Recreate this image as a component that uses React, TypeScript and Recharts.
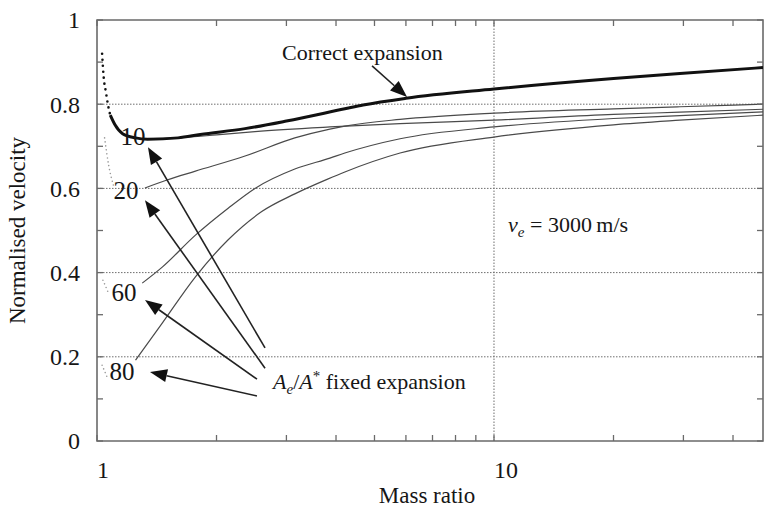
import React from 'react';
import { LineChart, Line, XAxis, YAxis, ReferenceLine, ReferenceDot, ReferenceArea } from 'recharts';

const SERIF = "'Liberation Serif', 'DejaVu Serif', 'Times New Roman', serif";
const FRAME = '#6a6a6a';
const INK = '#161616';
const PLOT_H = 421;
const PLOT_W = 666;
const TICK_LEN = 6;

const X_DOMAIN: [number, number] = [1, 47.6];
const Y_DOMAIN: [number, number] = [0, 1];
const xAllTicks = [1, 2, 3, 4, 5, 6, 7, 8, 9, 10, 20, 30, 40];
const xLabelTicks = [1, 10];
const yAllTicks = [0, 0.1, 0.2, 0.3, 0.4, 0.5, 0.6, 0.7, 0.8, 0.9, 1];
const yLabelTicks = [0, 0.2, 0.4, 0.6, 0.8, 1];
const gridY = [0.2, 0.4, 0.6, 0.8];
const gridX = [10];

// Correct expansion (thick)
const correctDotted = [
  { x: 1.03, y: 0.92 }, { x: 1.04, y: 0.862 }, { x: 1.053, y: 0.829 }, { x: 1.065, y: 0.8 }, { x: 1.08, y: 0.774 },
];
const correctSolid = [
  { x: 1.08, y: 0.774 }, { x: 1.11, y: 0.751 }, { x: 1.16, y: 0.73 }, { x: 1.25, y: 0.72 }, { x: 1.34, y: 0.717 },
  { x: 1.6, y: 0.72 }, { x: 1.82, y: 0.728 }, { x: 2.36, y: 0.742 }, { x: 3, y: 0.76 }, { x: 4.21, y: 0.789 },
  { x: 4.68, y: 0.798 }, { x: 6, y: 0.814 }, { x: 10, y: 0.836 }, { x: 20, y: 0.861 }, { x: 29.4, y: 0.873 }, { x: 47.6, y: 0.887 },
];
// Ae/A* = 10
const ratio10 = [
  { x: 1.3, y: 0.718 }, { x: 1.6, y: 0.72 }, { x: 2, y: 0.727 }, { x: 2.5, y: 0.735 }, { x: 3.86, y: 0.746 },
  { x: 5.8, y: 0.754 }, { x: 10, y: 0.762 }, { x: 20, y: 0.776 }, { x: 29.4, y: 0.781 }, { x: 47.6, y: 0.788 },
];
// Ae/A* = 20
const ratio20Dotted = [{ x: 1.045, y: 0.72 }, { x: 1.07, y: 0.655 }, { x: 1.1, y: 0.607 }];
const ratio20 = [
  { x: 1.32, y: 0.601 }, { x: 1.5, y: 0.62 }, { x: 1.77, y: 0.641 }, { x: 2.36, y: 0.677 }, { x: 3.15, y: 0.72 },
  { x: 3.86, y: 0.741 }, { x: 4.21, y: 0.748 }, { x: 5.8, y: 0.764 }, { x: 10, y: 0.779 }, { x: 20, y: 0.789 },
  { x: 29.4, y: 0.794 }, { x: 47.6, y: 0.8 },
];
// Ae/A* = 60
const ratio60Dotted = [{ x: 1.035, y: 0.382 }, { x: 1.066, y: 0.354 }];
const ratio60 = [
  { x: 1.3, y: 0.375 }, { x: 1.46, y: 0.413 }, { x: 1.77, y: 0.489 }, { x: 2.14, y: 0.553 }, { x: 2.5, y: 0.6 },
  { x: 3.15, y: 0.646 }, { x: 3.86, y: 0.672 }, { x: 4.21, y: 0.684 }, { x: 5.8, y: 0.718 }, { x: 10, y: 0.746 },
  { x: 20, y: 0.766 }, { x: 29.4, y: 0.773 }, { x: 47.6, y: 0.782 },
];
// Ae/A* = 80
const ratio80Dotted = [{ x: 1.03, y: 0.18 }, { x: 1.06, y: 0.152 }];
const ratio80 = [
  { x: 1.25, y: 0.192 }, { x: 1.46, y: 0.28 }, { x: 1.77, y: 0.39 }, { x: 2.14, y: 0.478 }, { x: 2.6, y: 0.545 },
  { x: 3.15, y: 0.587 }, { x: 3.81, y: 0.622 }, { x: 4.21, y: 0.639 }, { x: 5.8, y: 0.684 }, { x: 10, y: 0.722 },
  { x: 20, y: 0.751 }, { x: 29.4, y: 0.762 }, { x: 47.6, y: 0.774 },
];

const curveLabels = [
  { text: '10', x: 1.232, y: 0.724 },
  { text: '20', x: 1.183, y: 0.596 },
  { text: '60', x: 1.169, y: 0.354 },
  { text: '80', x: 1.156, y: 0.166 },
];

const arrows = [
  { from: { x: 4.93, y: 0.891 }, to: { x: 6.04, y: 0.817 } },
  { from: { x: 2.65, y: 0.221 }, to: { x: 1.344, y: 0.698 } },
  { from: { x: 2.65, y: 0.173 }, to: { x: 1.321, y: 0.572 } },
  { from: { x: 2.529, y: 0.147 }, to: { x: 1.321, y: 0.335 } },
  { from: { x: 2.529, y: 0.107 }, to: { x: 1.36, y: 0.164 } },
];

const correctLabelPos = { x: 2.924, y: 0.905 };
const fixedLabelPos = { x: 2.776, y: 0.1235 };
const veLabelPos = { x: 10.85, y: 0.4964 };

const txt = (size: number) => ({ fontFamily: SERIF, fontSize: size });

const ArrowShape = (p: any) => {
  const { x1, y1, x2, y2 } = p;
  if ([x1, y1, x2, y2].some((v) => typeof v !== 'number' || isNaN(v))) return <g />;
  const ang = Math.atan2(y2 - y1, x2 - x1);
  const L = 17;
  const W = 6.5;
  const bx = x2 - L * Math.cos(ang);
  const by = y2 - L * Math.sin(ang);
  const px = -Math.sin(ang) * W;
  const py = Math.cos(ang) * W;
  return (
    <g>
      <line x1={x1} y1={y1} x2={bx} y2={by} stroke="#222" strokeWidth={1.6} />
      <polygon points={`${x2},${y2} ${bx + px},${by + py} ${bx - px},${by - py}`} fill="#111" />
    </g>
  );
};

// bottom axis: p.y is the plot bottom (tickSize 0, tickMargin 0)
const XTick = (p: any) => {
  const v = p.payload.value;
  const bottom = p.y;
  const top = p.y - PLOT_H;
  return (
    <g>
      <line x1={p.x} y1={bottom} x2={p.x} y2={bottom - TICK_LEN} stroke={FRAME} strokeWidth={1.3} />
      <line x1={p.x} y1={top} x2={p.x} y2={top + TICK_LEN} stroke={FRAME} strokeWidth={1.3} />
      {xLabelTicks.includes(v) && (
        <text x={p.x} y={bottom + 37} textAnchor="start" fill={INK} style={txt(24)}>
          {v}
        </text>
      )}
    </g>
  );
};

// left axis: p.x is plot left - 17 (tickSize 0, tickMargin 17)
const YTick = (p: any) => {
  const v = p.payload.value;
  const left = p.x + 17;
  const right = left + PLOT_W;
  const show = yLabelTicks.some((t) => Math.abs(t - v) < 1e-9);
  return (
    <g>
      <line x1={left} y1={p.y} x2={left + TICK_LEN} y2={p.y} stroke={FRAME} strokeWidth={1.3} />
      <line x1={right} y1={p.y} x2={right - TICK_LEN} y2={p.y} stroke={FRAME} strokeWidth={1.3} />
      {show && (
        <text x={p.x} y={p.y} dy="0.35em" textAnchor="end" fill={INK} style={txt(24)}>
          {String(v)}
        </text>
      )}
    </g>
  );
};

const XTitle = (p: any) => {
  const vb = p.viewBox || { x: 97, y: 441, width: 666 };
  return (
    <text x={vb.x + vb.width / 2 - 3} y={vb.y + 62} textAnchor="middle" fill={INK} style={txt(23)}>
      Mass ratio
    </text>
  );
};

const YTitle = (p: any) => {
  const vb = p.viewBox || { x: 0, y: 20, width: 97, height: 421 };
  const cx = 25;
  const cy = vb.y + vb.height / 2;
  return (
    <text x={cx} y={cy} transform={`rotate(-90, ${cx}, ${cy})`} textAnchor="middle" fill={INK} style={txt(23)}>
      Normalised velocity
    </text>
  );
};

const CurveLabel = (text: string) => (p: any) => (
  <text x={p.cx} y={p.cy} dy="0.35em" textAnchor="middle" fill={INK} style={txt(25)}>
    {text}
  </text>
);

const CorrectText = (p: any) => (
  <text x={p.cx} y={p.cy} fill={INK} style={txt(22)}>
    Correct expansion
  </text>
);

const FixedText = (p: any) => (
  <text x={p.cx} y={p.cy} fill={INK} style={txt(22)}>
    <tspan fontStyle="italic">A</tspan>
    <tspan fontStyle="italic" fontSize={15} dy={5}>e</tspan>
    <tspan dy={-5}>/</tspan>
    <tspan fontStyle="italic">A</tspan>
    <tspan fontSize={15} dy={-8}>*</tspan>
    <tspan dy={8}>{'\u00A0fixed expansion'}</tspan>
  </text>
);

const VeText = (p: any) => (
  <text x={p.cx} y={p.cy} fill={INK} style={txt(22)}>
    <tspan fontStyle="italic">v</tspan>
    <tspan fontStyle="italic" fontSize={15} dy={5}>e</tspan>
    <tspan dy={-5}>{'\u00A0=\u00A03000\u2009m/s'}</tspan>
  </text>
);

const thin = { stroke: '#4a4a4a', strokeWidth: 1.2 };
const dotted = { stroke: '#9a9a9a', strokeWidth: 1.6, strokeDasharray: '0 4', strokeLinecap: 'round' as const };
const gridStyle = { stroke: '#6e6e6e', strokeWidth: 1, strokeDasharray: '1.5 1.5' };

export default function App() {
  const series: { data: { x: number; y: number }[]; props: any }[] = [
    { data: ratio80Dotted, props: dotted },
    { data: ratio60Dotted, props: dotted },
    { data: ratio20Dotted, props: dotted },
    { data: ratio80, props: thin },
    { data: ratio60, props: thin },
    { data: ratio20, props: thin },
    { data: ratio10, props: thin },
    { data: correctDotted, props: { stroke: '#111', strokeWidth: 2.6, strokeDasharray: '0 6', strokeLinecap: 'round' } },
    { data: correctSolid, props: { stroke: '#111', strokeWidth: 3 } },
  ];
  return (
    <div style={{ position: 'absolute', left: 0, top: 0, width: 765, height: 508, background: '#fff' }}>
      <LineChart width={765} height={508} margin={{ top: 20, right: 2, left: 0, bottom: 0 }}>
        <XAxis
          xAxisId="main"
          dataKey="x"
          type="number"
          scale="log"
          domain={X_DOMAIN}
          allowDataOverflow
          ticks={xAllTicks}
          interval={0}
          height={67}
          tickSize={0}
          tickMargin={0}
          tickLine={false}
          axisLine={false}
          tick={<XTick />}
          label={XTitle}
        />
        <YAxis
          yAxisId="main"
          type="number"
          domain={Y_DOMAIN}
          allowDataOverflow
          ticks={yAllTicks}
          interval={0}
          width={97}
          tickSize={0}
          tickMargin={17}
          tickLine={false}
          axisLine={false}
          tick={<YTick />}
          label={YTitle}
        />
        {gridY.map((v) => (
          <ReferenceLine key={`gy${v}`} xAxisId="main" yAxisId="main" y={v} {...gridStyle} />
        ))}
        {gridX.map((v) => (
          <ReferenceLine key={`gx${v}`} xAxisId="main" yAxisId="main" x={v} {...gridStyle} />
        ))}
        <ReferenceArea
          xAxisId="main"
          yAxisId="main"
          x1={X_DOMAIN[0]}
          x2={X_DOMAIN[1]}
          y1={Y_DOMAIN[0]}
          y2={Y_DOMAIN[1]}
          fill="none"
          fillOpacity={0}
          stroke={FRAME}
          strokeWidth={1.6}
          ifOverflow="visible"
        />

        {series.map((s, i) => (
          <Line
            key={`s${i}`}
            xAxisId="main"
            yAxisId="main"
            data={s.data}
            dataKey="y"
            type="monotone"
            dot={false}
            activeDot={false}
            isAnimationActive={false}
            {...s.props}
          />
        ))}

        {arrows.map((a, i) => (
          <ReferenceLine key={`arr${i}`} xAxisId="main" yAxisId="main" segment={[a.from, a.to]} shape={ArrowShape} ifOverflow="visible" />
        ))}
        {curveLabels.map((l) => (
          <ReferenceDot key={`lab${l.text}`} xAxisId="main" yAxisId="main" x={l.x} y={l.y} r={0} shape={CurveLabel(l.text)} ifOverflow="visible" />
        ))}
        <ReferenceDot xAxisId="main" yAxisId="main" x={correctLabelPos.x} y={correctLabelPos.y} r={0} shape={CorrectText} ifOverflow="visible" />
        <ReferenceDot xAxisId="main" yAxisId="main" x={fixedLabelPos.x} y={fixedLabelPos.y} r={0} shape={FixedText} ifOverflow="visible" />
        <ReferenceDot xAxisId="main" yAxisId="main" x={veLabelPos.x} y={veLabelPos.y} r={0} shape={VeText} ifOverflow="visible" />
      </LineChart>
    </div>
  );
}
